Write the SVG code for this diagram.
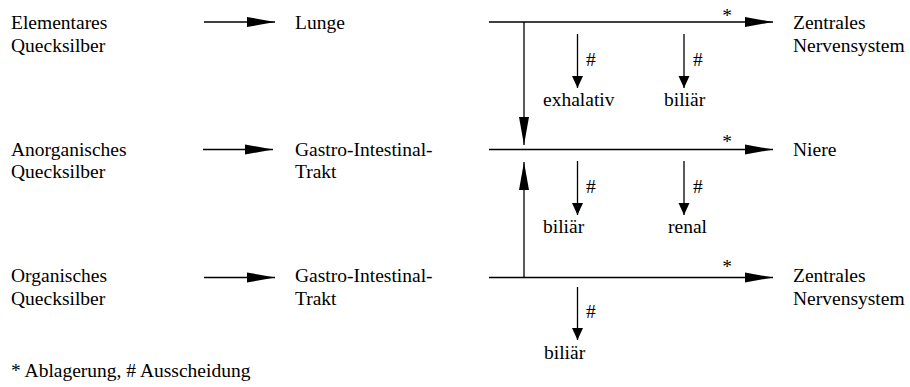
<svg xmlns="http://www.w3.org/2000/svg" width="910" height="387" viewBox="0 0 910 387" font-family="Liberation Serif, serif" font-size="19.5">
  <style>
    .mid { text-anchor: middle; }
    .line { stroke: #000; stroke-width: 1.3; fill: none; }
    .big { marker-end: url(#headBig); }
    .small { marker-end: url(#headSmall); }
  </style>
  <defs>
    <marker id="headBig" markerUnits="userSpaceOnUse" orient="auto" refX="28" refY="5" markerWidth="29" markerHeight="10" overflow="visible">
      <path d="M0,0 L28,5 L0,10 Z" fill="#000"/>
    </marker>
    <marker id="headSmall" markerUnits="userSpaceOnUse" orient="auto" refX="12" refY="5.5" markerWidth="13" markerHeight="11" overflow="visible">
      <path d="M0,0 L12,5.5 L0,11 Z" fill="#000"/>
    </marker>
  </defs>
  <rect width="910" height="387" fill="#fff"/>

  <!-- sources -->
  <g id="elementares-hg"><text x="11" y="29">Elementares</text><text x="11" y="51.5">Quecksilber</text></g>
  <g id="anorganisches-hg"><text x="11" y="155.5">Anorganisches</text><text x="11" y="178">Quecksilber</text></g>
  <g id="organisches-hg"><text x="11" y="282">Organisches</text><text x="11" y="304.5">Quecksilber</text></g>

  <!-- uptake organs -->
  <g id="lunge"><text x="295" y="29">Lunge</text></g>
  <g id="git-1"><text x="295" y="155.5">Gastro-Intestinal-</text><text x="295" y="178">Trakt</text></g>
  <g id="git-2"><text x="295" y="282">Gastro-Intestinal-</text><text x="295" y="304.5">Trakt</text></g>

  <!-- target organs -->
  <g id="zns-1"><text x="793" y="29">Zentrales</text><text x="793" y="51.5">Nervensystem</text></g>
  <g id="niere"><text x="793" y="155.5">Niere</text></g>
  <g id="zns-2"><text x="793" y="282">Zentrales</text><text x="793" y="304.5">Nervensystem</text></g>

  <!-- excretion routes -->
  <g id="exhalativ"><text x="543" y="106">exhalativ</text></g>
  <g id="biliaer-1"><text x="664" y="106">biliär</text></g>
  <g id="biliaer-2"><text x="543" y="233">biliär</text></g>
  <g id="renal"><text x="668" y="233">renal</text></g>
  <g id="biliaer-3"><text x="544" y="359">biliär</text></g>

  <!-- connectors -->
  <g id="connectors">
    <line class="line big" x1="204" y1="22" x2="275" y2="22"/>
    <line class="line big" x1="203" y1="149.5" x2="273" y2="149.5"/>
    <line class="line big" x1="204" y1="277.5" x2="275" y2="277.5"/>

    <line class="line big" x1="489" y1="22" x2="773" y2="22"/>
    <line class="line big" x1="489" y1="149.5" x2="773" y2="149.5"/>
    <line class="line big" x1="489" y1="277.5" x2="773" y2="277.5"/>

    <line class="line big" x1="524" y1="22" x2="524" y2="145"/>
    <line class="line big" x1="524" y1="277.5" x2="524" y2="162"/>

    <line class="line small" x1="577.5" y1="34" x2="577.5" y2="88"/>
    <line class="line small" x1="684" y1="34" x2="684" y2="88"/>
    <line class="line small" x1="577.5" y1="161" x2="577.5" y2="215"/>
    <line class="line small" x1="684" y1="161" x2="684" y2="215"/>
    <line class="line small" x1="577.5" y1="287" x2="577.5" y2="340"/>

    <!-- deposition / excretion marks -->
    <text class="mid" x="727" y="22">*</text>
    <text class="mid" x="727" y="148">*</text>
    <text class="mid" x="727" y="273">*</text>
    <text x="586" y="66">#</text>
    <text x="693" y="66">#</text>
    <text x="586" y="193">#</text>
    <text x="693" y="193">#</text>
    <text x="586" y="318">#</text>
  </g>

  <g id="legend"><text x="11" y="377">* Ablagerung, # Ausscheidung</text></g>
</svg>
